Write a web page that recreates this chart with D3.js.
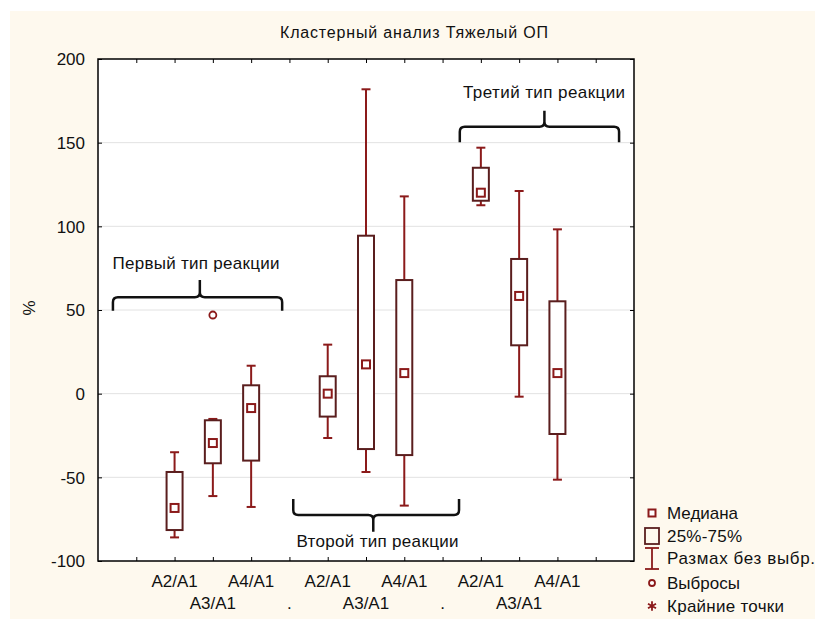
<!DOCTYPE html>
<html><head><meta charset="utf-8">
<script src="https://cdn.jsdelivr.net/npm/d3@7"></script>
<style>
html,body{margin:0;padding:0;background:#fff;}
svg{display:block;font-family:"Liberation Sans",Arial,sans-serif;}
</style></head>
<body>
<svg id="c" width="815" height="619"></svg>
<script>
// ---- data ----
const title = "Кластерный анализ Тяжелый ОП";
const yLabel = "%";
const tickLabels = ["", "A2/A1","A3/A1","A4/A1",".","A2/A1","A3/A1","A4/A1",".","A2/A1","A3/A1","A4/A1",""];
const yTicks = [-100,-50,0,50,100,150,200];
const boxIndex   = [1,2,3,5,6,7,9,10,11];
const whiskerLow = [-85.9,-61.2,-67.7,-26.5,-46.8,-66.9,112.6,-1.8,-51.4];
const q1         = [-81.5,-41.6,-40.0,-13.7,-33.1,-36.7,115.3,28.9,-24.1];
const median     = [-68.3,-29.5,-8.6,0.0,17.5,12.3,120.1,58.4,12.3];
const q3         = [-46.8,-15.9,5.0,10.4,94.4,67.9,135.0,80.5,55.2];
const whiskerHigh= [-35.0,-15.1,16.7,29.3,181.9,117.9,147.0,121.1,98.2];
const outlierIndex = [2];
const outlierValue = [47];
const groupLabels = ["Первый тип реакции","Второй тип реакции","Третий тип реакции"];
// brace spans in category units (0..14 slot scale) and values
const braceFrom  = [0.39, 5.10, 9.45];
const braceTo    = [4.81, 9.43, 13.61];
const braceMid   = [2.66, 7.19, 11.66];
const braceEnd   = [49.6, -63.0, 150.2];
const braceLine  = [57.6, -72.5, 159.5];
const braceTip   = [67.9, -82.5, 169.1];
const labelX     = [2.56, 7.30, 11.65];
const labelY     = [74.5, -91.8, 176.5];
const legendItems = ["Медиана","25%-75%","Размах без выбр.","Выбросы","Крайние точки"];

// ---- layout ----
const svg = d3.select("#c");
const L=98, R=634, T=59, B=561;
const redW = "#8b1a1a", boxC = "#5a1e1e", txt="#111";
svg.append("rect").attr("x",10).attr("y",11).attr("width",805).attr("height",608).attr("fill","#fef9ee");
svg.append("rect").attr("x",L).attr("y",T).attr("width",R-L).attr("height",B-T).attr("fill","#fff");

const x = d3.scalePoint().domain(d3.range(tickLabels.length)).range([L,R]).padding(1);
const xs = d3.scaleLinear().domain([0,14]).range([L,R]);
const y = d3.scaleLinear().domain([-100,200]).range([B,T]);

// grid
svg.append("g").selectAll("line").data(yTicks.filter(v=>v>-100&&v<200)).join("line")
  .attr("x1",L).attr("x2",R).attr("y1",d=>y(d)).attr("y2",d=>y(d))
  .attr("stroke","#e2e2e2").attr("stroke-width",1);

// axes (ticks inside)
const gl = svg.append("g").attr("transform",`translate(${L},0)`)
  .call(d3.axisLeft(y).tickValues(yTicks).tickSize(0).tickPadding(13).tickFormat(d=>d));
gl.select(".domain").remove();
gl.selectAll("text").attr("font-size",17).attr("fill",txt).attr("font-family","Liberation Sans, Arial").attr("dy","0.35em");
svg.append("g").attr("transform",`translate(${L},0)`)
  .call(d3.axisRight(y).tickValues(yTicks).tickSize(4).tickFormat(""))
  .call(g=>g.select(".domain").remove());
svg.append("g").attr("transform",`translate(${R},0)`)
  .call(d3.axisLeft(y).tickValues(yTicks).tickSize(4).tickFormat(""))
  .call(g=>g.select(".domain").remove());
svg.append("g").attr("transform",`translate(0,${T})`)
  .call(d3.axisBottom(x).tickSize(4).tickFormat(""))
  .call(g=>g.select(".domain").remove());
svg.append("g").attr("transform",`translate(0,${B})`)
  .call(d3.axisTop(x).tickSize(4).tickFormat(""))
  .call(g=>g.select(".domain").remove());
svg.selectAll(".tick line").attr("stroke","#000");

// frame
svg.append("rect").attr("x",L).attr("y",T).attr("width",R-L).attr("height",B-T)
  .attr("fill","none").attr("stroke","#000").attr("stroke-width",1.5);

// x labels two rows
svg.append("g").selectAll("text").data(tickLabels.map((t,i)=>({t,i})).filter(d=>d.t!=="")).join("text")
  .attr("x",d=>x(d.i)).attr("y",d=>d.i%2===1?587:609)
  .attr("text-anchor","middle").attr("font-size",17).attr("fill",txt).text(d=>d.t);

// title & y label
svg.append("text").attr("x",414).attr("y",38).attr("text-anchor","middle").attr("font-size",16)
  .attr("textLength",268).attr("lengthAdjust","spacing").attr("fill",txt).text(title);
svg.append("text").attr("transform","translate(35,308) rotate(-90)").attr("text-anchor","middle").attr("font-size",17).attr("fill",txt).text(yLabel);

// boxes
const boxes = boxIndex.map((k,i)=>({k,lo:whiskerLow[i],q1:q1[i],md:median[i],q3:q3[i],hi:whiskerHigh[i]}));
const bw=16, cw=9, ms=8;
const gb = svg.append("g");
boxes.forEach(d=>{
  const cx=x(d.k);
  gb.append("line").attr("x1",cx).attr("x2",cx).attr("y1",y(d.hi)).attr("y2",y(d.q3)).attr("stroke",redW).attr("stroke-width",2);
  gb.append("line").attr("x1",cx).attr("x2",cx).attr("y1",y(d.q1)).attr("y2",y(d.lo)).attr("stroke",redW).attr("stroke-width",2);
  gb.append("line").attr("x1",cx-cw/2).attr("x2",cx+cw/2).attr("y1",y(d.hi)).attr("y2",y(d.hi)).attr("stroke",redW).attr("stroke-width",2);
  gb.append("line").attr("x1",cx-cw/2).attr("x2",cx+cw/2).attr("y1",y(d.lo)).attr("y2",y(d.lo)).attr("stroke",redW).attr("stroke-width",2);
  gb.append("rect").attr("x",cx-bw/2).attr("y",y(d.q3)).attr("width",bw).attr("height",y(d.q1)-y(d.q3))
    .attr("fill","#fff").attr("stroke",boxC).attr("stroke-width",2);
  gb.append("rect").attr("x",cx-ms/2).attr("y",y(d.md)-ms/2).attr("width",ms).attr("height",ms)
    .attr("fill","#fff").attr("stroke",redW).attr("stroke-width",2);
});
svg.append("g").selectAll("circle").data(outlierIndex.map((k,i)=>({k,v:outlierValue[i]}))).join("circle")
  .attr("cx",d=>x(d.k)).attr("cy",d=>y(d.v)).attr("r",3.5).attr("fill","#fff").attr("stroke",redW).attr("stroke-width",1.8);

// braces
const labelLen = [167,162,162];
groupLabels.forEach((lab,i)=>{
  const x0=xs(braceFrom[i]), x1=xs(braceTo[i]), xc=xs(braceMid[i]);
  const ye=y(braceEnd[i]), yl=y(braceLine[i]), yt=y(braceTip[i]);
  const s = Math.sign(ye-yl)*5, st=Math.sign(yt-yl)*5;
  const p = `M${x0},${ye} L${x0},${yl+s} Q${x0},${yl} ${x0+5},${yl} L${xc-5},${yl} Q${xc},${yl} ${xc},${yl+st} L${xc},${yt} `+
            `M${xc},${yl+st} Q${xc},${yl} ${xc+5},${yl} L${x1-5},${yl} Q${x1},${yl} ${x1},${yl+s} L${x1},${ye}`;
  svg.append("path").attr("d",p).attr("fill","none").attr("stroke","#111").attr("stroke-width",2.5);
  svg.append("text").attr("x",xs(labelX[i])).attr("y",y(labelY[i])).attr("text-anchor","middle")
    .attr("font-size",17).attr("textLength",labelLen[i]).attr("lengthAdjust","spacing")
    .attr("fill",txt).text(lab);
});

// legend
const lg = svg.append("g");
const lx=652, ly=[513,536,558,583,606];
const legLen=[71,75,148,73,117];
lg.append("rect").attr("x",lx-3.5).attr("y",ly[0]-3.5).attr("width",7).attr("height",7).attr("fill","#fff").attr("stroke",redW).attr("stroke-width",2);
lg.append("rect").attr("x",lx-7).attr("y",ly[1]-8).attr("width",14).attr("height",16).attr("fill","none").attr("stroke",boxC).attr("stroke-width",1.8);
lg.append("line").attr("x1",lx).attr("x2",lx).attr("y1",ly[2]-10).attr("y2",ly[2]+11).attr("stroke",redW).attr("stroke-width",1.8);
lg.append("line").attr("x1",lx-7).attr("x2",lx+7).attr("y1",ly[2]-10).attr("y2",ly[2]-10).attr("stroke",redW).attr("stroke-width",1.8);
lg.append("line").attr("x1",lx-7).attr("x2",lx+7).attr("y1",ly[2]+11).attr("y2",ly[2]+11).attr("stroke",redW).attr("stroke-width",1.8);
lg.append("circle").attr("cx",lx).attr("cy",ly[3]).attr("r",3).attr("fill","#fff").attr("stroke",redW).attr("stroke-width",1.8);
lg.append("path").attr("d",d3.symbol(d3.symbolAsterisk,60)()).attr("transform",`translate(${lx},${ly[4]})`)
  .attr("fill","none").attr("stroke",redW).attr("stroke-width",1.8);
lg.selectAll("text").data(legendItems).join("text")
  .attr("x",667).attr("y",(d,i)=>ly[i]+6).attr("font-size",17)
  .attr("textLength",(d,i)=>legLen[i]).attr("lengthAdjust","spacing").attr("fill",txt).text(d=>d);
</script>
</body></html>
